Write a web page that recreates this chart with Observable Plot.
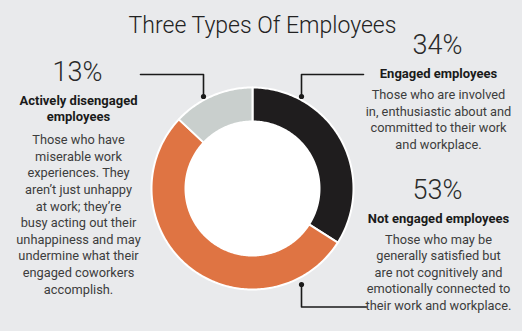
<!DOCTYPE html>
<html><head><meta charset="utf-8">
<script src="https://cdn.jsdelivr.net/npm/d3@7"></script>
<script src="https://cdn.jsdelivr.net/npm/@observablehq/plot@0.6"></script>
<style>
html,body{margin:0;padding:0;background:#e9eaec;}
#chart{width:522px;height:331px;}
</style></head>
<body><div id="chart"></div>
<script>
// ---- data ----
const categories = ["Engaged employees", "Not engaged employees", "Actively disengaged employees"];
const shares = [34, 53, 13];
const colors = ["#1f1d1e", "#df7443", "#c9cfcd"];
const pctLabels = ["34%", "53%", "13%"];
const headLabels = ["Engaged employees", "Not engaged employees", "Actively disengaged\nemployees"];
const bodyTexts = [
  "Those who are involved\nin, enthusiastic about and\ncommitted to their work\nand workplace.",
  "Those who may be\ngenerally satisfied but\nare not cognitively and\nemotionally connected to\ntheir work and workplace.",
  "Those who have\nmiserable work\nexperiences. They\naren\u2019t just unhappy\nat work; they\u2019re\nbusy acting out their\nunhappiness and may\nundermine what their\nengaged coworkers\naccomplish."
];
const title = "Three Types Of Employees";

// ---- layout ----
const W = 522, H = 331;
const cx = 252, cy = 188, R1 = 101, R0 = 67;
const font = "Roboto, 'Noto Sans', sans-serif";

// slices as polygons built from cumulative shares
const total = d3.sum(shares);
let acc = 0;
const slicePts = [];
categories.forEach((c, i) => {
  const a0 = acc / total * 2 * Math.PI;
  acc += shares[i];
  const a1 = acc / total * 2 * Math.PI;
  const n = Math.max(8, Math.ceil((a1 - a0) * 60));
  const pts = [];
  for (let k = 0; k <= n; k++) { const a = a0 + (a1 - a0) * k / n; pts.push([a, R1]); }
  for (let k = n; k >= 0; k--) { const a = a0 + (a1 - a0) * k / n; pts.push([a, R0]); }
  pts.forEach(([a, r]) => slicePts.push({cat: c, x: cx + r * Math.sin(a), y: cy - r * Math.cos(a)}));
});

// annotation anchors (layout): baselines of first lines
const anchors = [
  {x: 437, pctY: 53, headY: 75, bodyY: 96},
  {x: 437, pctY: 198, headY: 220, bodyY: 240.5},
  {x: 77,  pctY: 80, headY: 101.5, bodyY: 141}
];
const headFs = 13, bodyFs = 12.8, lh = 16.6;
const pctData = categories.map((c, i) => ({t: pctLabels[i], x: anchors[i].x, y: anchors[i].pctY}));
const headData = categories.map((c, i) => ({t: headLabels[i], x: anchors[i].x + 1, y: anchors[i].headY}));
const bodyData = categories.map((c, i) => ({t: bodyTexts[i], x: anchors[i].x + 1, y: anchors[i].bodyY}));

const leaders = [
  {id: 0, pts: [[363, 74], [301, 74], [301, 96]]},
  {id: 1, pts: [[366, 306.5], [301, 306.5], [301, 284]]},
  {id: 2, pts: [[140, 74], [203, 74], [203, 96]]}
];
const leaderPts = leaders.flatMap(l => l.pts.map(([x, y]) => ({id: l.id, x, y})));
const dotPts = leaders.map(l => ({x: l.pts[2][0], y: l.pts[2][1]}));

const chart = Plot.plot({
  width: W, height: H,
  margin: 0,
  x: {domain: [0, W], range: [0, W], axis: null},
  y: {domain: [0, H], range: [0, H], axis: null},
  color: {domain: categories, range: colors},
  style: {background: "#e9eaec", fontFamily: font},
  marks: [
    Plot.dot([{x: cx, y: cy}], {x: "x", y: "y", r: R0 + 1, fill: "white", stroke: "none"}),
    Plot.line(slicePts, {x: "x", y: "y", z: "cat", fill: "cat", stroke: "white", strokeWidth: 2, curve: "linear-closed"}),
    Plot.line(leaderPts, {x: "x", y: "y", z: "id", stroke: "#1a1a1a", strokeWidth: 1.6}),
    Plot.dot(dotPts, {x: "x", y: "y", r: 2.6, fill: "#1a1a1a"}),
    Plot.text([{t: title}], {x: () => 262, y: () => 32 - 0.71 * 23, text: "t", fontSize: 23, lineAnchor: "top", fill: "#222", fontWeight: 300, fontFamily: font}),
    Plot.text(pctData, {x: "x", y: (d) => d.y - 0.71 * 27, text: "t", fontSize: 27, lineAnchor: "top", fill: "#2a2a2a", fontWeight: 300, fontFamily: font}),
    Plot.text(headData, {x: "x", y: (d) => d.y - 0.71 * headFs, text: "t", fontSize: headFs, lineAnchor: "top", lineHeight: lh / headFs, fill: "#1a1a1a", fontWeight: "bold", fontFamily: font}),
    Plot.text(bodyData, {x: "x", y: (d) => d.y - 0.71 * bodyFs, text: "t", fontSize: bodyFs, lineAnchor: "top", lineHeight: lh / bodyFs, fill: "#3d3d3d", fontFamily: font})
  ]
});
document.getElementById("chart").appendChild(chart);
</script></body></html>
